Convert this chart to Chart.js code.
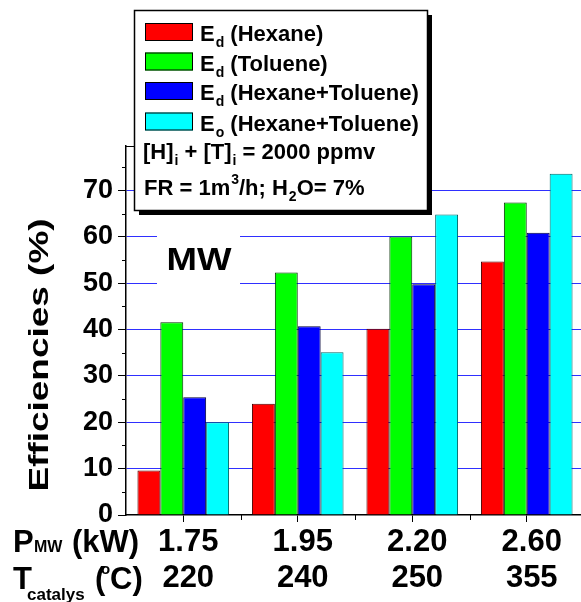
<!DOCTYPE html>
<html>
<head>
<meta charset="utf-8">
<title>Efficiencies</title>
<script src="https://cdn.jsdelivr.net/npm/chart.js@4/dist/chart.umd.min.js"></script>
<style>
  html, body { margin: 0; padding: 0; background: #fff; overflow: hidden; }
  #wrap { position: relative; width: 600px; height: 602px; }
</style>
</head>
<body>
<div id="wrap"><canvas id="bars"></canvas></div>
<script>
// microwave power (kW) and catalyst temperature (degC) for each run
const power = ['1.75', '1.95', '2.20', '2.60'];
const temperature = ['220', '240', '250', '355'];

// efficiencies in %
const hexane = [9.6, 24.0, 40.2, 54.7];
const toluene = [41.6, 52.3, 60.1, 67.4];
const mixture = [25.4, 40.7, 49.8, 60.9];
const mixtureOverall = [20.0, 35.1, 64.8, 73.6];

const yTicks = [0, 10, 20, 30, 40, 50, 60, 70];

// legend texts: [text, sub/superscript, rest]
const legendRows = [
    [['E', 0], ['d', 1], [' (Hexane)', 0]],
    [['E', 0], ['d', 1], [' (Toluene)', 0]],
    [['E', 0], ['d', 1], [' (Hexane+Toluene)', 0]],
    [['E', 0], ['o', 1], [' (Hexane+Toluene)', 0]],
];
const noteRows = [
    [['[H]', 0], ['i', 1], [' + [T]', 0], ['i', 1], [' = 2000 ppmv', 0]],
    [['FR = 1m', 0], ['3', -1], ['/h; H', 0], ['2', 1], ['O= 7%', 0]],
];

const FONT = "'Liberation Sans', Arial, sans-serif";

// writes a line made of normal, subscript (1) and superscript (-1) pieces
const drawParts = (ctx, x, y, parts, size, small) => {
    ctx.textAlign = 'left';
    ctx.textBaseline = 'alphabetic';
    parts.forEach(([txt, kind]) => {
        if (kind === 0) {
            ctx.font = `bold ${size}px ${FONT}`;
            ctx.fillText(txt, x, y);
            x += ctx.measureText(txt).width;
        } else {
            ctx.font = `bold ${small}px ${FONT}`;
            const dy = kind > 0 ? 6 : -11;
            ctx.fillText(txt, x + 1, y + dy);
            x += ctx.measureText(txt).width + 1;
        }
    });
};

const extras = {
    id: 'extras',
    afterDraw(chart) {
        const ctx = chart.ctx;
        const area = chart.chartArea;
        const xs = chart.scales.x;
        const ys = chart.scales.y;
        const bx = 134, by = 10, bw = 293, bh = 200;
        ctx.save();

        // minor ticks
        ctx.strokeStyle = '#000';
        ctx.lineWidth = 1;
        ctx.beginPath();
        for (let v = 5; v < ys.max; v += 10) {
            const y = Math.round(ys.getPixelForValue(v)) + 0.5;
            ctx.moveTo(area.left - 4, y);
            ctx.lineTo(area.left, y);
        }
        for (let i = 0; i < power.length - 1; i++) {
            const x = Math.round((xs.getPixelForTick(i) + xs.getPixelForTick(i + 1)) / 2) + 0.5;
            ctx.moveTo(x, area.bottom);
            ctx.lineTo(x, area.bottom + 5);
        }
        // short top frame stub, the rest runs under the legend
        ctx.moveTo(area.left, Math.round(area.top) + 0.5);
        ctx.lineTo(bx + 2, Math.round(area.top) + 0.5);
        ctx.stroke();

        // MW tag on white ground
        ctx.fillStyle = '#fff';
        ctx.fillRect(157, 228, 83, 64);
        ctx.fillStyle = '#000';
        ctx.save();
        ctx.translate(199, 270);
        ctx.scale(1.18, 1);
        ctx.font = `bold 31px ${FONT}`;
        ctx.textAlign = 'center';
        ctx.textBaseline = 'alphabetic';
        ctx.fillText('MW', 0, 0);
        ctx.restore();

        // y axis title
        ctx.save();
        ctx.translate(48, 355);
        ctx.rotate(-Math.PI / 2);
        ctx.scale(1.32, 1);
        ctx.font = `bold 28px ${FONT}`;
        ctx.textAlign = 'center';
        ctx.textBaseline = 'alphabetic';
        ctx.fillText('Efficiencies (%)', 0, 0);
        ctx.restore();

        // row captions under the x axis
        drawParts(ctx, 13, 552, [['P', 0]], 31, 16);
        ctx.font = `bold 16px ${FONT}`;
        ctx.fillText('MW', 34, 552);
        ctx.font = `bold 31px ${FONT}`;
        ctx.fillText('(kW)', 72, 552);
        ctx.fillText('T', 13, 589);
        ctx.font = `bold 17px ${FONT}`;
        ctx.fillText('catalys', 27, 600);
        ctx.font = `bold 31px ${FONT}`;
        ctx.fillText('(', 95, 589);
        ctx.fillText('C)', 110, 589);
        ctx.font = `bold 15px ${FONT}`;
        ctx.fillText('o', 101, 574);

        // legend box with drop shadow
        ctx.fillStyle = '#000';
        ctx.fillRect(bx + 5, by + 5, bw, bh);
        ctx.fillStyle = '#fff';
        ctx.fillRect(bx, by, bw, bh);
        ctx.strokeStyle = '#000';
        ctx.lineWidth = 1.5;
        ctx.strokeRect(bx + 0.5, by + 0.5, bw, bh);

        const rowTops = [23, 52.5, 82, 112.5];
        chart.data.datasets.forEach((ds, i) => {
            const top = rowTops[i];
            ctx.fillStyle = ds.backgroundColor;
            ctx.fillRect(145, top, 48, 18);
            ctx.strokeStyle = '#000';
            ctx.lineWidth = 1;
            ctx.strokeRect(145.5, top + 0.5, 47, 17);
            ctx.fillStyle = '#000';
            drawParts(ctx, 200, top + 18, legendRows[i], 22, 14);
        });
        drawParts(ctx, 143, 159, noteRows[0], 22, 14);
        drawParts(ctx, 144, 195, noteRows[1], 22, 14);

        ctx.restore();
    }
};

const data = {
    labels: power.map((p, i) => [p, temperature[i]]),
    datasets: [
        { label: 'Ed (Hexane)', data: hexane, backgroundColor: '#ff0000', borderColor: '#4a0000' },
        { label: 'Ed (Toluene)', data: toluene, backgroundColor: '#00ff00', borderColor: '#003000' },
        { label: 'Ed (Hexane+Toluene)', data: mixture, backgroundColor: '#0000ff', borderColor: '#000038' },
        { label: 'Eo (Hexane+Toluene)', data: mixtureOverall, backgroundColor: '#00ffff', borderColor: '#006868' },
    ]
};
data.datasets.forEach((ds) => {
    ds.borderWidth = 1;
    ds.categoryPercentage = 0.8;
    ds.barPercentage = 1.0;
});

const config = {
    type: 'bar',
    data: data,
    options: {
        responsive: true,
        maintainAspectRatio: false,
        animation: false,
        layout: { padding: { top: 146, right: 16, left: 0, bottom: 0 } },
        plugins: {
            legend: { display: false },
            tooltip: { enabled: false },
        },
        scales: {
            x: {
                offset: true,
                afterFit: (s) => { s.height = 87; },
                grid: {
                    offset: false,
                    drawOnChartArea: false,
                    color: '#000',
                    tickColor: '#000',
                    tickLength: 7,
                },
                border: { display: true, color: '#000', width: 1.5 },
                ticks: {
                    color: '#000',
                    font: { family: FONT, size: 31, weight: 'bold', lineHeight: 1.17 },
                    padding: 2,
                    labelOffset: 5,
                    maxRotation: 0,
                    autoSkip: false,
                },
            },
            y: {
                min: 0,
                max: 79.6,
                afterFit: (s) => { s.width = 126; },
                afterBuildTicks: (s) => { s.ticks = yTicks.map((v) => ({ value: v })); },
                grid: {
                    color: (c) => (c.tick && c.tick.value === 0 ? 'rgba(0,0,0,0)' : '#2f2fff'),
                    lineWidth: 1,
                    tickColor: '#000',
                    tickLength: 8,
                },
                border: { display: true, color: '#000', width: 1.5 },
                ticks: {
                    color: '#000',
                    font: { family: FONT, size: 27, weight: 'bold' },
                    padding: 5,
                },
            },
        },
    },
    plugins: [extras],
};

var ctx_bars = document.getElementById('bars');
var bar_chart = new Chart(ctx_bars, config);
</script>
</body>
</html>
